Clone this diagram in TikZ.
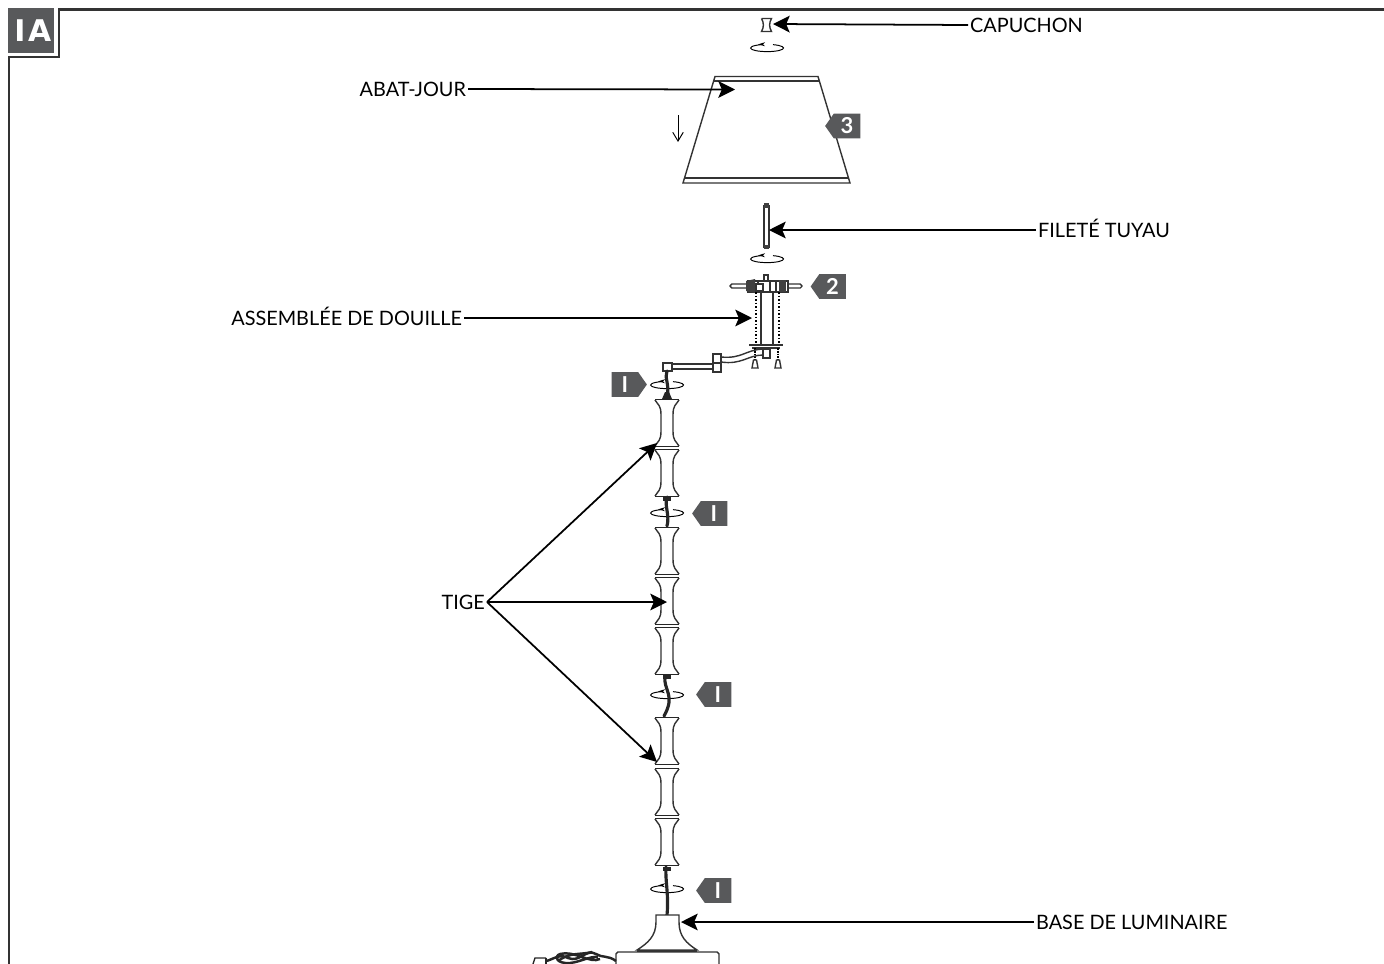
\documentclass[tikz,border=0pt]{standalone}
\usepackage{fontspec}
\setmainfont{Lato}
\newfontfamily\badgefont{DejaVu Sans}
\usetikzlibrary{arrows.meta,shapes.symbols}
\definecolor{taggrey}{HTML}{58595B}
\definecolor{framegrey}{HTML}{333333}
\tikzset{
	lbl/.style={inner sep=1pt, text height=8pt, text depth=0pt, font=\fontsize{11.3}{13}\selectfont},
	callout/.style={line width=1pt, -{Stealth[length=9.5pt,width=9.5pt,inset=2pt]}},
	part/.style={line width=0.8pt, draw=black!80},
	cord/.style={line width=1.8pt, draw=black!85, line cap=round},
	tagleft/.style={shape=signal, signal to=west, signal pointer angle=110, fill=taggrey, text=white, inner sep=0pt, minimum width=20pt, minimum height=14pt, font=\bfseries\fontsize{12.5}{13}\selectfont},
	tagright/.style={tagleft, signal to=east},
	stempiece/.pic={
		\foreach \s in {-1,1} {
			\draw[part] (\s*12,-23) .. controls (\s*9,-18) and (\s*6,-18) .. (\s*6,-8) -- (\s*6,8) .. controls (\s*6,18) and (\s*9,18) .. (\s*12,23);
		}
		\draw[part, draw=black!85] (-12,-23.3) -- (12,-23.3);
		\draw[part, draw=black!85] (-12,23.3) -- (12,23.3);
	},
	rotmark/.pic={
		\draw[line width=0.55pt] (6,-3.35) arc[start angle=-69, end angle=250, x radius=16.5, y radius=3.6];
		\fill (-9,-3.6) -- (-2,-5.8) -- (-4,-3.6) -- (-2,-1.8) -- cycle;
	},
}
\begin{document}
\begin{tikzpicture}[x=0.02cm, y=-0.02cm]
	\useasboundingbox (0,0) rectangle (1384,964);
	% page frame and badge
	\draw[framegrey, line width=1.3pt] (9,964) -- (9,57) -- (59,57) -- (59,9.5) -- (1384,9.5);
	\node[fill=taggrey, text=white, inner sep=0pt, minimum width=26pt, minimum height=25.5pt, font=\badgefont\bfseries\fontsize{17}{18}\selectfont] (badge) at (31,30.5) {\kern2pt I\kern1.5pt A};

	% shade
	\draw[part] (683,183) -- (715,76.5) -- (818,76.5) -- (850,183) -- cycle;
	\draw[part] (713.5,81) -- (819.5,81);
	\draw[part] (684.5,178) -- (848.5,178);
	\draw[line width=0.55pt, -{Straight Barb[length=5pt,width=6pt]}] (678,115) -- (678,142);

	% cap
	\draw[part] (761.5,18.5) -- (771.5,18.5) .. controls (769,23) and (769,27) .. (771.5,31.5) -- (761.5,31.5) .. controls (764,27) and (764,23) .. (761.5,18.5);

	% threaded pipe
	\draw[part, line width=0.6pt] (764,206) rectangle (769,247);
	\fill[black!75] (764,203) rectangle (769,208);
	\fill[black!75] (764,245) rectangle (769,249);

	% rotation marks
	\foreach \px/\py in {767/48,767/259,667/385,667/513,667/695,667/889} {
		\pic at (\px,\py) {rotmark};
	}

	% socket assembly
	\draw[part, fill=white, rounded corners=1pt] (730,284) rectangle (750,288);
	\draw[part, fill=white, rounded corners=1pt] (786,284) rectangle (802,288);
	\draw[part] (764,275) rectangle (768,282);
	\draw[part, fill=white] (748,281) rectangle (788,292);
	\fill[black!75] (746,281) -- (755,279) -- (755,293) -- (746,291) -- cycle;
	\draw[part, line width=1.4pt] (758,281) -- (758,292);
	\draw[part, fill=white] (756,284) rectangle (763,291);
	\draw[part, line width=1.4pt] (770,281) -- (770,292);
	\draw[part, line width=1.4pt] (776,281) -- (776,292);
	\fill[black!75] (779,280) rectangle (786,292);
	\draw[part] (761,292) -- (761,345);
	\draw[part] (773,292) -- (773,345);
	\foreach \x in {756,779} {
		\draw[line width=1.1pt, dash pattern=on 1pt off 1pt] (\x,292) -- (\x,345);
	}
	\draw[part, line width=0.9pt] (749,345) -- (783,345);
	\draw[part, line width=0.9pt] (752,348) -- (780,348);
	% pull chains
	\foreach \x in {755,778} {
		\draw[line width=0.6pt, dash pattern=on 1pt off 0.6pt] (\x,348) -- (\x,360);
		\draw[part, fill=white] (\x-1.5,360) -- (\x+1.5,360) -- (\x+3,368) -- (\x-3,368) -- cycle;
	}
	% arm
	\draw[part] (763,349) .. controls (745,350) and (742,359) .. (721,357);
	\draw[part] (763,355) .. controls (748,355) and (742,365) .. (721,362);
	\draw[part, fill=white] (763,349) rectangle (770,358);
	\draw[part, fill=white] (713,354) rectangle (721,363);
	\draw[part, fill=white] (713,363) rectangle (721,372);
	\draw[part] (672,364) -- (713,364);
	\draw[part] (672,369) -- (713,369);
	\draw[part, fill=white] (663,363) rectangle (672,371);

	% stem
	\foreach \ytop in {398,448,526,576,626,716,767,817} {
		\pic at (667,\ytop+25) {stempiece};
	}

	% cords
	\draw[cord] (667,371) .. controls (664,378) and (670,384) .. (667,398);
	\draw[cord] (667,497) .. controls (664,505) and (670,515) .. (667,526);
	\draw[cord] (665,676) .. controls (663,690) and (676,695) .. (664,716);
	\draw[cord] (666,867) .. controls (665,880) and (669,895) .. (667,915);
	% cord ends at the stem
	\fill[black!85] (662,399) -- (672,399) -- (669,392) -- (665,392) -- cycle;
	\foreach \yend in {497,675,867} {
		\fill[black!85] (663,\yend) rectangle (671,\yend+4);
	}

	% base
	\draw[part, fill=white] (656,915) -- (679,915) -- (679,922) .. controls (679,936) and (686,943) .. (697,950) -- (637,950) .. controls (648,943) and (656,936) .. (656,922) -- cycle;
	\draw[part, line width=1.1pt] (637,951) -- (697,951);
	\draw[part, rounded corners=1pt] (616,964) -- (616,952) -- (719,952) -- (719,964);
	% coiled cord and plug
	\draw[line width=1.4pt, black!85] (616,961) .. controls (608,955) and (602,958) .. (596,954) .. controls (586,948) and (580,963) .. (568,958) .. controls (560,953) and (552,960) .. (546,961);
	\draw[line width=1.4pt, black!85] (600,959) .. controls (590,964) and (574,950) .. (560,954) .. controls (554,956) and (556,964) .. (570,963) .. controls (580,962) and (590,956) .. (598,957);
	\draw[line width=1.4pt, black!85] (592,952) .. controls (580,955) and (570,952) .. (558,961);
	\draw[line width=0.8pt, black!85] (546,958) -- (535,958) -- (533,964);
	\draw[line width=0.8pt, black!85] (546,958) -- (546,964);

	% step tags
	\node[tagleft] (tagshade) at (847,126) {3};
	\node[tagleft] (tagsocket) at (832.5,286.5) {2};
	\node[tagright] (tagarm) at (625,384.5) {I};
	\node[tagleft] (tagtop) at (714,513.5) {I};
	\node[tagleft] (tagmid) at (718,694.5) {I};
	\node[tagleft] (taglow) at (718,890.5) {I};

	% labels
	\node[lbl, anchor=west] (capuchon) at (968,25) {CAPUCHON};
	\node[lbl, anchor=east] (abatjour) at (468,89) {ABAT-JOUR};
	\node[lbl, anchor=west] (filete) at (1036,230) {FILETÉ TUYAU};
	\node[lbl, anchor=east] (douille) at (464,318) {ASSEMBLÉE DE DOUILLE};
	\node[lbl, anchor=east] (tige) at (487,602) {TIGE};
	\node[lbl, anchor=west] (base) at (1034,922) {BASE DE LUMINAIRE};

	% arrow targets
	\coordinate (capend) at (773,24);
	\coordinate (shadeend) at (735,89.5);
	\coordinate (pipeend) at (769,230);
	\coordinate (socketend) at (752,318);
	\coordinate (stemupper) at (657,443);
	\coordinate (stemmid) at (667,602);
	\coordinate (stemlower) at (657,762);
	\coordinate (baseend) at (681,922);

	\draw[callout] (capuchon.west) -- (capend);
	\draw[callout] (abatjour.east) -- (shadeend);
	\draw[callout] (filete.west) -- (pipeend);
	\draw[callout] (douille.east) -- (socketend);
	\draw[callout] (tige.east) -- (stemupper);
	\draw[callout] (tige.east) -- (stemmid);
	\draw[callout] (tige.east) -- (stemlower);
	\draw[callout] (base.west) -- (baseend);
\end{tikzpicture}
\end{document}
